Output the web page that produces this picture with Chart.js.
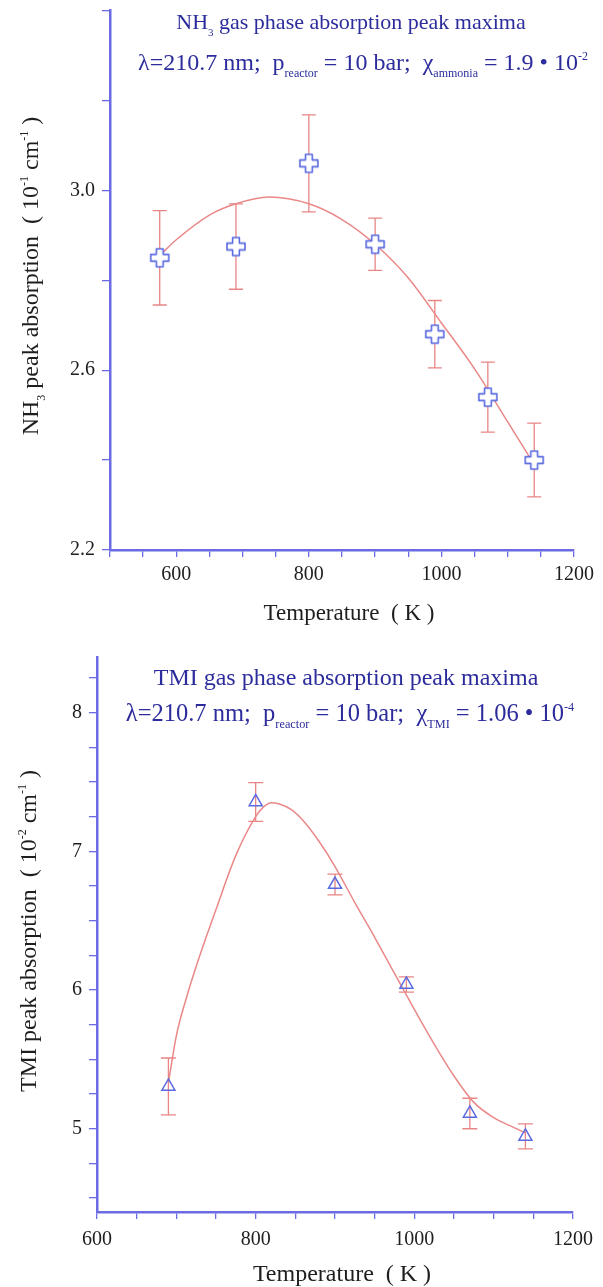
<!DOCTYPE html>
<html><head><meta charset="utf-8">
<script src="https://cdn.jsdelivr.net/npm/chart.js@4.4.0/dist/chart.umd.min.js"></script>
<style>
html,body{margin:0;padding:0;background:#fff;width:603px;height:1287px;overflow:hidden;}
.wrap{position:absolute;left:0;}
canvas{display:block;}
</style></head><body>
<div class="wrap" style="top:0;width:603px;height:640px"><canvas id="c1" width="603" height="640"></canvas></div>
<div class="wrap" style="top:640px;width:603px;height:647px"><canvas id="c2" width="603" height="647"></canvas></div>
<script>
// ---------- data: NH3 panel ----------
const nh3Temp = [575, 690, 800, 900, 990, 1070, 1140];
const nh3Abs  = [2.85, 2.875, 3.06, 2.88, 2.68, 2.54, 2.40];
const nh3Err  = [0.105, 0.095, 0.108, 0.058, 0.075, 0.078, 0.082];
const nh3FitTemp = [575, 600, 650, 690, 740, 800, 850, 900, 950, 1000, 1050, 1100, 1140];
const nh3FitAbs  = [2.855, 2.89, 2.945, 2.970, 2.985, 2.970, 2.935, 2.880, 2.805, 2.705, 2.603, 2.485, 2.39];
const nh3XTicks = [500,550,600,650,700,750,800,850,900,950,1000,1050,1100,1150,1200];
const nh3XLabels = [600, 800, 1000, 1200];
const nh3YTicks = [2.2, 2.4, 2.6, 2.8, 3.0, 3.2, 3.4];
const nh3YLabels = [2.2, 2.6, 3.0];

// ---------- data: TMI panel ----------
const tmiTemp = [690, 800, 900, 990, 1070, 1140];
const tmiAbs  = [5.305, 7.355, 6.76, 6.04, 5.11, 4.945];
const tmiErr  = [0.205, 0.14, 0.075, 0.055, 0.11, 0.09];
const tmiFitTemp = [690, 700, 712, 725, 750, 775, 800, 810, 820, 830, 845, 860, 880, 900, 925, 950, 975, 1000, 1025, 1050, 1075, 1100, 1125, 1140];
const tmiFitAbs  = [5.33, 5.67, 5.93, 6.17, 6.58, 6.97, 7.25, 7.32, 7.35, 7.34, 7.30, 7.22, 7.07, 6.89, 6.63, 6.38, 6.12, 5.86, 5.61, 5.38, 5.19, 5.08, 5.01, 4.97];
const tmiXTicks = [600,650,700,750,800,850,900,950,1000,1050,1100,1150,1200];
const tmiXLabels = [600, 800, 1000, 1200];
const tmiYTicks = [4.5,4.75,5,5.25,5.5,5.75,6,6.25,6.5,6.75,7,7.25,7.5,7.75,8,8.25];
const tmiYLabels = [5, 6, 7, 8];

// ---------- styles ----------
const FONT = '"Liberation Serif", "Times New Roman", Times, serif';
const AXIS = '#6b6be3';
const MARK = '#5a6ae0';
const ERR = '#e98585';
const FIT = '#ea8888';
const TITLE = '#2c2c9c';
const TXT = '#1e1e1e';

function plusMarker(color) {
  const c = document.createElement('canvas');
  c.width = c.height = 22;
  const g = c.getContext('2d');
  const m = 11, a = 3.4, b = 9;
  g.beginPath();
  g.moveTo(m-a, m-b); g.lineTo(m+a, m-b); g.lineTo(m+a, m-a); g.lineTo(m+b, m-a);
  g.lineTo(m+b, m+a); g.lineTo(m+a, m+a); g.lineTo(m+a, m+b); g.lineTo(m-a, m+b);
  g.lineTo(m-a, m+a); g.lineTo(m-b, m+a); g.lineTo(m-b, m-a); g.lineTo(m-a, m-a);
  g.closePath();
  g.fillStyle = '#fff'; g.fill();
  g.strokeStyle = color; g.lineWidth = 1.6; g.lineJoin = 'round'; g.stroke();
  return c;
}

function drawRich(ctx, parts, x, y, size, color, rot) {
  ctx.save();
  ctx.translate(x, y);
  if (rot) ctx.rotate(rot);
  ctx.fillStyle = color;
  ctx.textBaseline = 'alphabetic';
  ctx.textAlign = 'left';
  let w = 0;
  const ws = parts.map(p => {
    const s = (p.sub || p.sup) ? size * 0.5 : size;
    ctx.font = s + 'px ' + FONT;
    const m = ctx.measureText(p.t).width;
    w += m; return m;
  });
  let cx = -w / 2;
  parts.forEach((p, i) => {
    const s = (p.sub || p.sup) ? size * 0.5 : size;
    ctx.font = s + 'px ' + FONT;
    const dy = p.sub ? size * 0.28 : (p.sup ? -size * 0.42 : 0);
    ctx.fillText(p.t, cx, size * 0.34 + dy);
    cx += ws[i];
  });
  ctx.restore();
}

function errPlugin(xs, ys, es, cap) {
  return {
    id: 'errbars',
    beforeDatasetsDraw(chart) {
      const {ctx, scales: {x, y}} = chart;
      ctx.save();
      ctx.strokeStyle = ERR; ctx.lineWidth = 1.3;
      xs.forEach((t, i) => {
        const px = x.getPixelForValue(t);
        const top = y.getPixelForValue(ys[i] + es[i]);
        const bot = y.getPixelForValue(ys[i] - es[i]);
        ctx.beginPath();
        ctx.moveTo(px, top); ctx.lineTo(px, bot);
        ctx.moveTo(px - cap, top); ctx.lineTo(px + cap, top);
        ctx.moveTo(px - cap, bot); ctx.lineTo(px + cap, bot);
        ctx.stroke();
      });
      ctx.restore();
    }
  };
}

function textPlugin(items) {
  return {
    id: 'texts',
    afterDraw(chart) {
      items.forEach(it => drawRich(chart.ctx, it.parts, it.x, it.y, it.size, it.color, it.rot || 0));
    }
  };
}

function near(list, v) { return list.some(t => Math.abs(t - v) < 1e-6); }

function makeChart(id, o) {
  const zeroPad = s => { s.paddingLeft = s.paddingRight = s.paddingTop = s.paddingBottom = 0; };
  return new Chart(document.getElementById(id), {
    type: 'scatter',
    data: {
      datasets: [
        {
          data: o.xs.map((t, i) => ({x: t, y: o.ys[i]})),
          showLine: false,
          pointStyle: o.pointStyle,
          pointRadius: o.pointRadius,
          borderColor: MARK,
          backgroundColor: 'rgba(255,255,255,0)',
          borderWidth: 1.5
        },
        {
          data: o.fx.map((t, i) => ({x: t, y: o.fy[i]})),
          showLine: true,
          borderColor: FIT,
          borderWidth: 1.5,
          pointRadius: 0,
          tension: 0.4,
          cubicInterpolationMode: o.interp,
          fill: false
        }
      ]
    },
    options: {
      responsive: false,
      animation: false,
      events: [],
      layout: {padding: o.padding},
      plugins: {legend: {display: false}, tooltip: {enabled: false}, title: {display: false}},
      scales: {
        x: {
          type: 'linear', min: o.xmin, max: o.xmax,
          afterFit(s) { s.height = o.xh; zeroPad(s); },
          afterBuildTicks(s) { s.ticks = o.xticks.map(v => ({value: v})); },
          ticks: {
            autoSkip: false, maxRotation: 0, padding: o.xpad, color: TXT,
            font: {family: FONT, size: 20},
            callback: v => near(o.xlabels, v) ? String(v) : ''
          },
          grid: {drawOnChartArea: false, drawTicks: true, tickLength: 7, color: AXIS, lineWidth: 1.3},
          border: {display: true, color: AXIS, width: 2.5}
        },
        y: {
          type: 'linear', min: o.ymin, max: o.ymax,
          afterFit(s) { s.width = o.yw; zeroPad(s); },
          afterBuildTicks(s) { s.ticks = o.yticks.map(v => ({value: v})); },
          ticks: {
            autoSkip: false, padding: 7, color: TXT,
            font: {family: FONT, size: 20},
            callback: v => near(o.ylabels, v) ? o.yfmt(v) : ''
          },
          grid: {drawOnChartArea: false, drawTicks: true, tickLength: 8, color: AXIS, lineWidth: 1.3},
          border: {display: true, color: AXIS, width: 2.5}
        }
      }
    },
    plugins: [errPlugin(o.xs, o.ys, o.es, o.cap), textPlugin(o.texts)]
  });
}

// ---------- panel 1 ----------
makeChart('c1', {
  xs: nh3Temp, ys: nh3Abs, es: nh3Err, fx: nh3FitTemp, fy: nh3FitAbs,
  pointStyle: plusMarker(MARK), pointRadius: 9, cap: 7, interp: 'monotone',
  padding: {left: 0, right: 29, top: 8, bottom: 0},
  xmin: 500, xmax: 1200, xticks: nh3XTicks, xlabels: nh3XLabels, xh: 90, xpad: 6,
  ymin: 2.2, ymax: 3.4, yticks: nh3YTicks, ylabels: nh3YLabels, yw: 110, yfmt: v => v.toFixed(1),
  texts: [
    {parts: [{t: 'NH'}, {t: '3', sub: 1}, {t: ' gas phase absorption peak maxima'}], x: 351, y: 22, size: 22, color: TITLE},
    {parts: [{t: 'λ=210.7 nm;  p'}, {t: 'reactor', sub: 1}, {t: ' = 10 bar;  χ'}, {t: 'ammonia', sub: 1}, {t: ' = 1.9 • 10'}, {t: '-2', sup: 1}], x: 363, y: 62, size: 24, color: TITLE},
    {parts: [{t: 'NH'}, {t: '3', sub: 1}, {t: ' peak absorption  ( 10'}, {t: '-1', sup: 1}, {t: ' cm'}, {t: '-1', sup: 1}, {t: ' )'}], x: 30, y: 276, size: 24, color: TXT, rot: -Math.PI / 2},
    {parts: [{t: 'Temperature  ( K )'}], x: 349, y: 612, size: 23, color: TXT}
  ]
});

// ---------- panel 2 ----------
makeChart('c2', {
  xs: tmiTemp, ys: tmiAbs, es: tmiErr, fx: tmiFitTemp, fy: tmiFitAbs,
  pointStyle: 'triangle', pointRadius: 7.5, cap: 7.5, interp: 'monotone',
  padding: {left: 0, right: 30, top: 17, bottom: 0},
  xmin: 600, xmax: 1200, xticks: tmiXTicks, xlabels: tmiXLabels, xh: 75, xpad: 9,
  ymin: 4.4, ymax: 8.4, yticks: tmiYTicks, ylabels: tmiYLabels, yw: 97, yfmt: v => String(v),
  texts: [
    {parts: [{t: 'TMI gas phase absorption peak maxima'}], x: 346, y: 37, size: 24, color: TITLE},
    {parts: [{t: 'λ=210.7 nm;  p'}, {t: 'reactor', sub: 1}, {t: ' = 10 bar;  χ'}, {t: 'TMI', sub: 1}, {t: ' = 1.06 • 10'}, {t: '-4', sup: 1}], x: 350, y: 73, size: 24.5, color: TITLE},
    {parts: [{t: 'TMI peak absorption  ( 10'}, {t: '-2', sup: 1}, {t: ' cm'}, {t: '-1', sup: 1}, {t: ' )'}], x: 28, y: 291, size: 24, color: TXT, rot: -Math.PI / 2},
    {parts: [{t: 'Temperature  ( K )'}], x: 342, y: 633, size: 24, color: TXT}
  ]
});
</script>
</body></html>
